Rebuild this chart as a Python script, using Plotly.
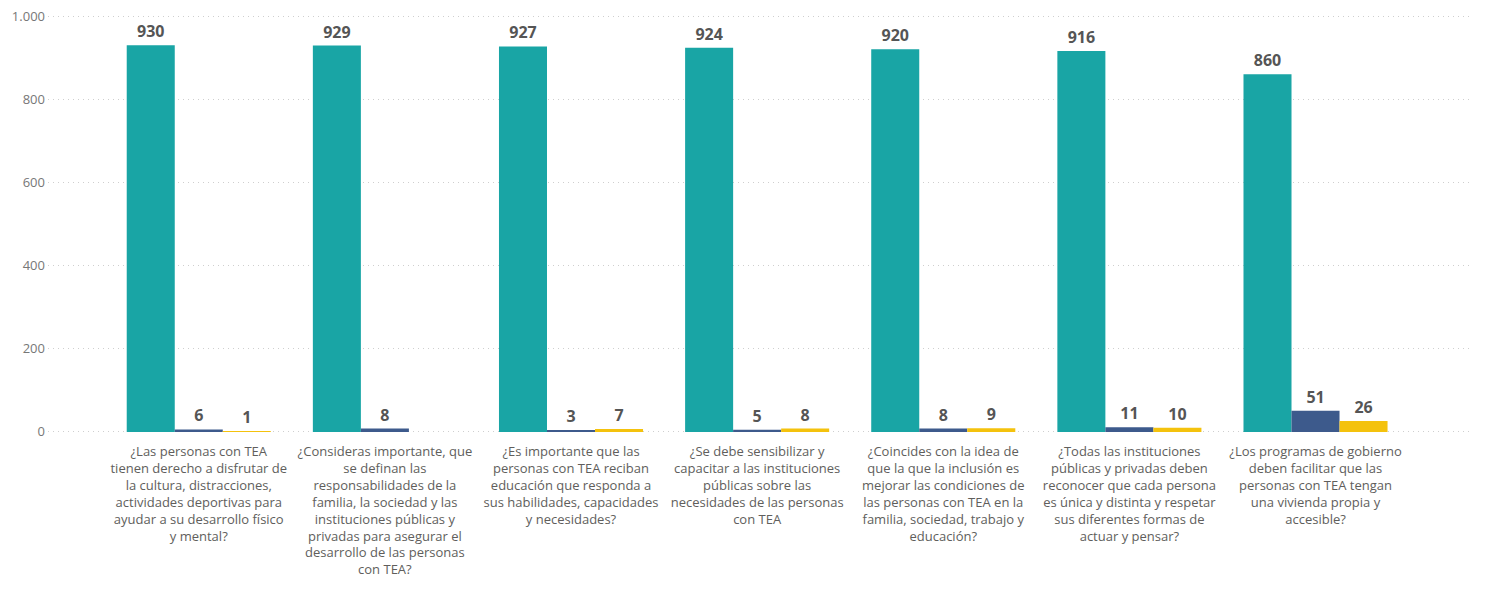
import plotly.graph_objects as go

categories = [
    "¿Las personas con TEA<br>tienen derecho a disfrutar de<br>la cultura, distracciones,<br>actividades deportivas para<br>ayudar a su desarrollo físico<br>y mental?",
    "¿Consideras importante, que<br>se definan las<br>responsabilidades de la<br>familia, la sociedad y las<br>instituciones públicas y<br>privadas para asegurar el<br>desarrollo de las personas<br>con TEA?",
    "¿Es importante que las<br>personas con TEA reciban<br>educación que responda a<br>sus habilidades, capacidades<br>y necesidades?",
    "¿Se debe sensibilizar y<br>capacitar a las instituciones<br>públicas sobre las<br>necesidades de las personas<br>con TEA",
    "¿Coincides con la idea de<br>que la que la inclusión es<br>mejorar las condiciones de<br>las personas con TEA en la<br>familia, sociedad, trabajo y<br>educación?",
    "¿Todas las instituciones<br>públicas y privadas deben<br>reconocer que cada persona<br>es única y distinta y respetar<br>sus diferentes formas de<br>actuar y pensar?",
    "¿Los programas de gobierno<br>deben facilitar que las<br>personas con TEA tengan<br>una vivienda propia y<br>accesible?",
]

serie_si = [930, 929, 927, 924, 920, 916, 860]
serie_no = [6, 8, 3, 5, 8, 11, 51]
serie_nose = [1, None, 7, 8, 9, 10, 26]

series_names = ["Sí", "No", "No sé"]
colors = ["#19A5A5", "#3D5A8C", "#F4C20D"]

y_tickvals = [0, 200, 400, 600, 800, 1000]
y_ticktext = ["0", "200", "400", "600", "800", "1.000"]

font_family = "Segoe UI, Open Sans, Noto Sans, sans-serif"

fig = go.Figure()
for name, vals, col in zip(series_names, [serie_si, serie_no, serie_nose], colors):
    fig.add_trace(go.Bar(
        x=categories, y=vals, name=name,
        marker=dict(color=col, line=dict(width=0)),
        texttemplate="%{y}", textposition="outside",
        textfont=dict(family=font_family, size=16, color="#555555", weight="bold"),
        constraintext="none", cliponaxis=False,
    ))

fig.update_layout(
    width=1486, height=583,
    margin=dict(l=40, r=24, t=6, b=157, autoexpand=False),
    barmode="group", bargap=0.226, bargroupgap=0,
    showlegend=False,
    plot_bgcolor="white", paper_bgcolor="white",
    font=dict(family=font_family),
)
fig.update_xaxes(
    type="category", range=[-0.81, 6.83], automargin=False,
    showgrid=False, showline=False, zeroline=False, ticks="",
    tickangle=0, ticklabelstandoff=8,
    tickfont=dict(family=font_family, size=13, color="#605E5C"),
)
fig.update_yaxes(
    range=[-5, 1005], tickvals=y_tickvals, ticktext=y_ticktext, automargin=False,
    showgrid=True, gridcolor="#CFCFCF", griddash="1px,4px", gridwidth=1,
    zeroline=False, showline=False, ticks="", ticklabelstandoff=2,
    ticklabeloverflow="allow",
    tickfont=dict(family=font_family, size=13, color="#777777"),
)

fig.write_html("out.html")
